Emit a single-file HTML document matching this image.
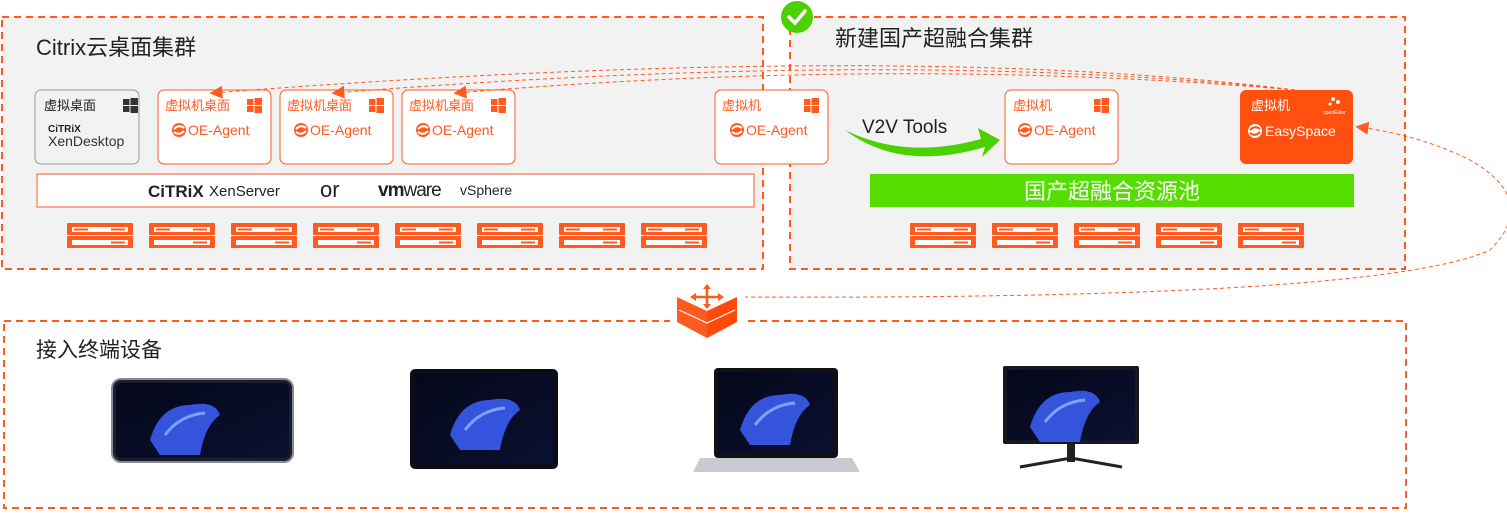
<!DOCTYPE html>
<html><head><meta charset="utf-8"><style>
body{margin:0;width:1507px;height:510px;background:#fff;overflow:hidden;font-family:"Liberation Sans","Noto Sans CJK SC",sans-serif}
</style></head><body>
<svg width="1507" height="510" xmlns="http://www.w3.org/2000/svg" font-family="Liberation Sans, Noto Sans CJK SC, sans-serif">
<defs>
<g id="srv">
<rect x="0" y="0" width="66" height="12" rx="1" fill="#ff5a1f"/>
<rect x="0" y="13" width="66" height="12" rx="1" fill="#ff5a1f"/>
<rect x="5" y="4" width="56" height="5" fill="#fff"/>
<rect x="5" y="17" width="56" height="5" fill="#fff"/>
<rect x="7" y="5.5" width="14" height="2" fill="#ff5a1f"/><rect x="44" y="5.5" width="14" height="2" fill="#ff5a1f"/>
<rect x="44" y="18.5" width="14" height="2" fill="#ff5a1f"/>
</g>
<g id="win"><rect x="0" y="1" width="6.5" height="6" fill="#ff5a1f"/><rect x="7.5" y="0" width="7.5" height="7" fill="#ff5a1f"/><rect x="0" y="8" width="6.5" height="6" fill="#ff5a1f"/><rect x="7.5" y="8" width="7.5" height="7" fill="#ff5a1f"/></g>
<g id="wing"><rect x="0" y="1" width="6.5" height="6" fill="#333"/><rect x="7.5" y="0" width="7.5" height="7" fill="#333"/><rect x="0" y="8" width="6.5" height="6" fill="#333"/><rect x="7.5" y="8" width="7.5" height="7" fill="#333"/></g>
<g id="oe"><circle cx="7" cy="7" r="7" fill="#ff5a1f"/><path d="M2 6 Q7 1 12 5 M2 9 Q7 13 12 8" stroke="#fff" stroke-width="2" fill="none"/></g>
<linearGradient id="scr" x1="0" y1="0" x2="1" y2="1"><stop offset="0" stop-color="#05081a"/><stop offset="1" stop-color="#0a1030"/></linearGradient>
<g id="wave"><path d="M10 55 Q20 20 50 20 Q75 15 80 30 Q65 40 60 70 L20 70 Z" fill="#3a5cf0" opacity="0.9"/><path d="M25 50 Q40 30 65 28" stroke="#7fa0ff" stroke-width="3" fill="none"/></g>
<marker id="ah" viewBox="0 0 10 10" refX="8" refY="5" markerWidth="13" markerHeight="13" markerUnits="userSpaceOnUse" orient="auto"><path d="M0 0 L10 5 L0 10 Z" fill="#ff5a1f"/></marker>
</defs>

<rect x="2" y="17" width="761" height="252" fill="#f2f2f2" stroke="#ff5a1f" stroke-width="2" stroke-dasharray="7 5"/>
<text x="36" y="55" font-size="22" fill="#222">Citrix云桌面集群</text>
<rect x="790" y="17" width="615" height="252" fill="#f2f2f2" stroke="#ff5a1f" stroke-width="2" stroke-dasharray="7 5"/>
<text x="835" y="46" font-size="22" fill="#222">新建国产超融合集群</text>
<circle cx="797" cy="17" r="16" fill="#4cd000"/>
<path d="M789 17 L795 23 L805 11" stroke="#fff" stroke-width="3.5" fill="none" stroke-linecap="round"/>

<rect x="35" y="90" width="104" height="74" rx="6" fill="#f2f2f2" stroke="#999"/>
<text x="44" y="110" font-size="13" fill="#222">虚拟桌面</text>
<use href="#wing" x="123" y="98"/>
<text x="48" y="132" font-size="10" font-weight="bold" fill="#222">CiTRiX</text>
<text x="48" y="146" font-size="14" fill="#333">XenDesktop</text>

<g>
<rect x="158" y="90" width="113" height="74" rx="6" fill="#fff" stroke="#ff5a1f"/>
<text x="165" y="110" font-size="13" fill="#ff5a1f">虚拟机桌面</text><use href="#win" x="247" y="98"/>
<use href="#oe" x="172" y="123"/><text x="188" y="135" font-size="14" fill="#ff5a1f">OE-Agent</text>
<rect x="280" y="90" width="113" height="74" rx="6" fill="#fff" stroke="#ff5a1f"/>
<text x="287" y="110" font-size="13" fill="#ff5a1f">虚拟机桌面</text><use href="#win" x="369" y="98"/>
<use href="#oe" x="294" y="123"/><text x="310" y="135" font-size="14" fill="#ff5a1f">OE-Agent</text>
<rect x="402" y="90" width="113" height="74" rx="6" fill="#fff" stroke="#ff5a1f"/>
<text x="409" y="110" font-size="13" fill="#ff5a1f">虚拟机桌面</text><use href="#win" x="491" y="98"/>
<use href="#oe" x="416" y="123"/><text x="432" y="135" font-size="14" fill="#ff5a1f">OE-Agent</text>
<rect x="715" y="90" width="113" height="74" rx="6" fill="#fff" stroke="#ff5a1f"/>
<text x="722" y="110" font-size="13" fill="#ff5a1f">虚拟机</text><use href="#win" x="804" y="98"/>
<use href="#oe" x="730" y="123"/><text x="746" y="135" font-size="14" fill="#ff5a1f">OE-Agent</text>
<rect x="1005" y="90" width="113" height="74" rx="6" fill="#fff" stroke="#ff5a1f"/>
<text x="1013" y="110" font-size="13" fill="#ff5a1f">虚拟机</text><use href="#win" x="1094" y="98"/>
<use href="#oe" x="1018" y="123"/><text x="1034" y="135" font-size="14" fill="#ff5a1f">OE-Agent</text>
<rect x="1240" y="90" width="113" height="74" rx="6" fill="#ff5010"/>
<text x="1251" y="110" font-size="13" fill="#fff">虚拟机</text>
<text x="1323" y="114" font-size="5" fill="#fff">openEuler</text>
<circle cx="1333" cy="99" r="2" fill="#fff"/><circle cx="1338" cy="102" r="2" fill="#fff"/><circle cx="1330" cy="104" r="1.5" fill="#fff"/>
<g transform="translate(1248,124)"><circle cx="7" cy="7" r="7" fill="#fff"/><path d="M2 6 Q7 1 12 5 M2 9 Q7 13 12 8" stroke="#ff5010" stroke-width="2" fill="none"/></g>
<text x="1265" y="136" font-size="14" fill="#fff">EasySpace</text>
</g>

<rect x="37" y="174" width="717" height="33" fill="#fff" stroke="#ff5a1f"/>
<text x="148" y="197" font-size="17" font-weight="bold" fill="#222">CiTRiX</text>
<text x="209" y="196" font-size="15" fill="#222">XenServer</text>
<text x="320" y="197" font-size="22" fill="#222">or</text>
<text x="378" y="196" font-size="19" font-weight="bold" fill="#222" letter-spacing="-1">vm<tspan font-weight="normal">ware</tspan></text>
<text x="460" y="195" font-size="14" fill="#222">vSphere</text>

<rect x="870" y="174" width="484" height="33" fill="#55dd00"/>
<text x="1112" y="199" font-size="22" fill="#fff" text-anchor="middle">国产超融合资源池</text>

<text x="862" y="133" font-size="19" fill="#222">V2V Tools</text>
<path d="M845 130 Q900 172 985 147 L982 157 L1000 140 L978 128 L981 139 Q905 160 845 130 Z" fill="#4cd000"/>

<use href="#srv" x="67" y="223"/><use href="#srv" x="149" y="223"/><use href="#srv" x="231" y="223"/><use href="#srv" x="313" y="223"/>
<use href="#srv" x="395" y="223"/><use href="#srv" x="477" y="223"/><use href="#srv" x="559" y="223"/><use href="#srv" x="641" y="223"/>
<use href="#srv" x="910" y="223"/><use href="#srv" x="992" y="223"/><use href="#srv" x="1074" y="223"/><use href="#srv" x="1156" y="223"/><use href="#srv" x="1238" y="223"/>

<g stroke="#ff5a1f" stroke-width="1" stroke-dasharray="4 3" fill="none">
<path d="M1295 90 Q900 40 212 93" marker-end="url(#ah)"/>
<path d="M1295 90 Q900 48 334 93" marker-end="url(#ah)"/>
<path d="M1295 90 Q900 56 456 93" marker-end="url(#ah)"/>
<path d="M737 297 Q1380 300 1490 250 Q1540 200 1470 160 Q1420 135 1358 127" marker-end="url(#ah)"/>
</g>

<rect x="4" y="321" width="1402" height="187" fill="#fff" stroke="#ff5a1f" stroke-width="2" stroke-dasharray="7 5"/>
<text x="36" y="357" font-size="21" fill="#222">接入终端设备</text>
<rect x="670" y="284" width="75" height="56" fill="#fff"/>
<path d="M677 297 L707 311 L707 338 L677 322 Z" fill="#ff5a1f"/>
<path d="M737 297 L707 311 L707 338 L737 322 Z" fill="#ff4a0a"/>
<path d="M679 310 L707 323 L735 310" stroke="#fff" stroke-width="1.2" fill="none"/>
<g stroke="#ff5a1f" stroke-width="2.5"><path d="M707 288 L707 305 M695 297 L719 297"/></g>
<g fill="#ff5a1f"><path d="M703 289 L707 284 L711 289Z"/><path d="M703 304 L707 309 L711 304Z"/><path d="M696 293 L690 297 L696 301Z"/><path d="M718 293 L724 297 L718 301Z"/></g>

<rect x="112" y="379" width="181" height="83" rx="9" fill="#1a1f2a" stroke="#889" stroke-width="2"/>
<rect x="116" y="383" width="173" height="75" rx="6" fill="url(#scr)"/>
<use href="#wave" x="140" y="385"/>
<rect x="410" y="369" width="148" height="100" rx="5" fill="#0b0d14"/>
<rect x="415" y="374" width="138" height="90" fill="url(#scr)"/>
<use href="#wave" x="440" y="380"/>
<rect x="714" y="368" width="124" height="90" rx="4" fill="#111"/>
<rect x="718" y="372" width="116" height="82" fill="url(#scr)"/>
<use href="#wave" x="730" y="375"/>
<path d="M700 458 L852 458 L860 472 L693 472 Z" fill="#c8ccd2"/>
<rect x="1003" y="366" width="136" height="78" rx="2" fill="#151820"/>
<rect x="1007" y="370" width="128" height="70" fill="url(#scr)"/>
<use href="#wave" x="1020" y="372"/>
<rect x="1067" y="444" width="8" height="18" fill="#222"/>
<path d="M1020 467 L1071 458 L1122 467" stroke="#222" stroke-width="3" fill="none"/>
</svg>
</body></html>
